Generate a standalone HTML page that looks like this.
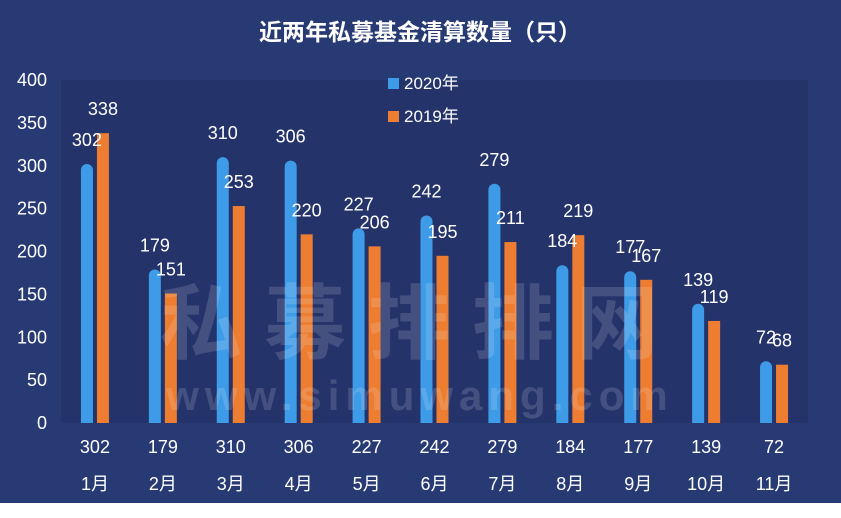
<!DOCTYPE html>
<html><head><meta charset="utf-8">
<style>
body{margin:0;width:841px;height:518px;background:#fff;overflow:hidden;font-family:"Liberation Sans","Noto Sans CJK SC",sans-serif}
#wrap{position:absolute;left:0;top:0;width:841px;height:503px;background:#283a73}
</style></head><body>
<div id="wrap">
<svg id="chart" width="841" height="503">
<rect x="61" y="80" width="747" height="343" fill="#25336b"/>
<text x="420" y="40" fill="#fff" font-size="23" font-weight="bold" text-anchor="middle">近两年私募基金清算数量（只）</text>
<g>
<rect x="388" y="78" width="11" height="11" fill="#3e9be8"/>
<text x="404" y="89" fill="#fff" font-size="17">2020年</text>
<rect x="388" y="111" width="11" height="11" fill="#ed7d31"/>
<text x="404" y="122" fill="#fff" font-size="17">2019年</text>
</g>
<g id="axis"></g>
<g id="bars"></g>
<g opacity="0.14" fill="#fff" font-weight="bold" text-anchor="middle">
<text x="420" y="352" font-size="82" letter-spacing="22">私募排排网</text>
<text x="420" y="410" font-size="42" letter-spacing="6">www.simuwang.com</text>
</g>
</svg>
</div>
<script>
const months=["1月","2月","3月","4月","5月","6月","7月","8月","9月","10月","11月"];
const s2020=[302,179,310,306,227,242,279,184,177,139,72];
const s2019=[338,151,253,220,206,195,211,219,167,119,68];
const yTicks=[0,50,100,150,200,250,300,350,400];
const NS="http://www.w3.org/2000/svg";
const x0=61,band=747/11,yBase=423,yTop=80;
const y=v=>yBase-(v/400)*(yBase-yTop);
const xc=i=>x0+band*(i+0.5);
function mk(t,a,p){const e=document.createElementNS(NS,t);for(const k in a)e.setAttribute(k,a[k]);(p||document.getElementById('chart')).appendChild(e);return e;}
const ax=document.getElementById('axis'),bars=document.getElementById('bars');
yTicks.forEach(v=>{const t=mk('text',{x:47,y:y(v)+6,fill:'#fff','font-size':18,'text-anchor':'end'},ax);t.textContent=v;

});
months.forEach((m,i)=>{
const c=xc(i);
const b1=mk('path',{d:`M${c-14},${yBase}V${y(s2020[i])+6}A6,6 0 0 1 ${c-2},${y(s2020[i])+6}V${yBase}Z`,fill:'#3e9be8'},bars);


const b2=mk('rect',{x:c+2,y:y(s2019[i]),width:12,height:yBase-y(s2019[i]),fill:'#ed7d31'},bars);


const l1=mk('text',{x:c-8,y:y(s2020[i])-18,fill:'#fff','font-size':18,'text-anchor':'middle'},bars);l1.textContent=s2020[i];


const l2=mk('text',{x:c+8,y:y(s2019[i])-18,fill:'#fff','font-size':18,'text-anchor':'middle'},bars);l2.textContent=s2019[i];


const tv=mk('text',{x:c,y:453,fill:'#fff','font-size':18,'text-anchor':'middle'},bars);tv.textContent=s2020[i];


const tm=mk('text',{x:c,y:490,fill:'#fff','font-size':18,'text-anchor':'middle'},bars);tm.textContent=m;


});
</script>
</body></html>
